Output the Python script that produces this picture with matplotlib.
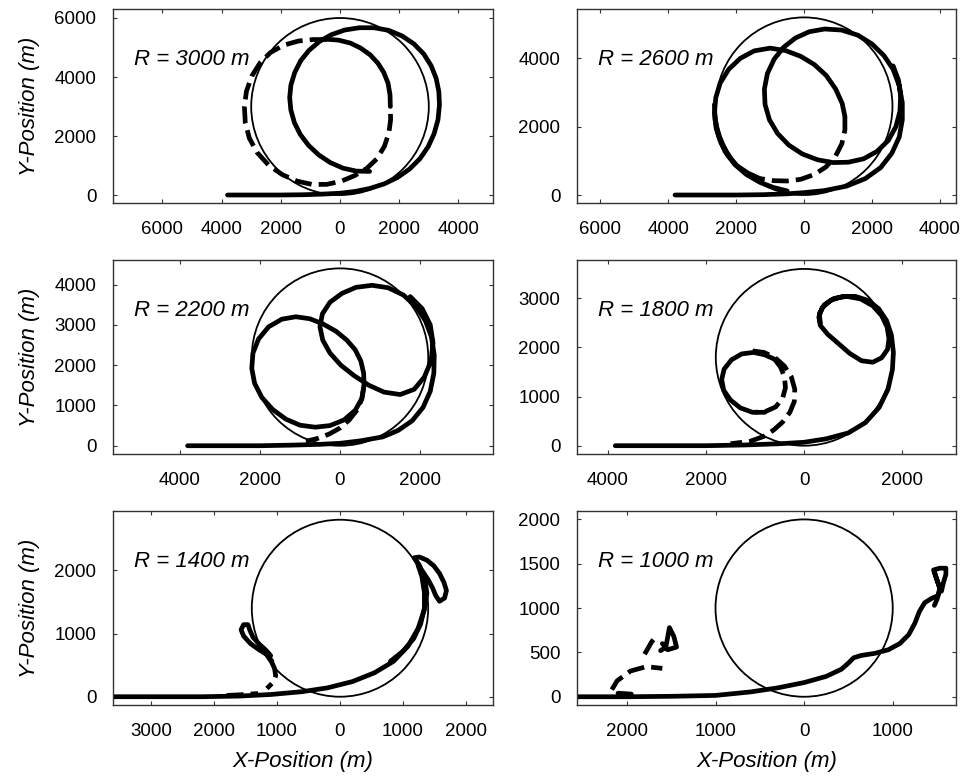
import matplotlib
matplotlib.use("Agg")
import matplotlib.pyplot as plt
from matplotlib.patches import Circle
from matplotlib.ticker import FixedLocator, FuncFormatter

plt.rcParams["font.family"] = ["Liberation Sans", "DejaVu Sans"]

# Orbit radii, one per panel
radii = [3000, 2600, 2200, 1800, 1400, 1000]

# Trajectory waypoints (x, y) in metres; solid and dashed tracks per panel
solid_3000 = [
    [(-3800, 0), (-3000, 0), (-2000, 0), (-1200, 10), (-600, 30), (0, 60), (500, 120),
     (1000, 220), (1500, 380), (1950, 600), (2350, 880), (2700, 1230), (2980, 1640),
     (3180, 2080), (3310, 2550), (3360, 3050), (3340, 3500), (3250, 3950), (3080, 4380),
     (2830, 4780), (2500, 5120), (2100, 5390), (1650, 5580), (1150, 5670), (650, 5670),
     (150, 5590), (-300, 5430), (-700, 5200), (-1050, 4900), (-1330, 4550), (-1530, 4150),
     (-1660, 3720), (-1700, 3300), (-1660, 2880), (-1540, 2450), (-1340, 2050),
     (-1060, 1680), (-720, 1360), (-330, 1100), (100, 910), (550, 810), (1000, 800)],
    [(1700, 3000), (1690, 3400), (1620, 3800), (1480, 4150), (1280, 4470), (1020, 4750),
     (700, 4980), (350, 5150), (-50, 5250), (-450, 5280)],
]
dashed_3000 = [
    [(-450, 5270), (-900, 5270), (-1400, 5220), (-1900, 5080), (-2350, 4830), (-2700, 4480),
     (-2980, 4030), (-3160, 3520), (-3230, 3000), (-3200, 2450), (-3060, 1920),
     (-2800, 1440), (-2420, 1020), (-1950, 690), (-1450, 470), (-950, 360), (-450, 360),
     (50, 470), (500, 660), (900, 900), (1250, 1230), (1500, 1650), (1650, 2100),
     (1710, 2550), (1700, 3000)],
]

solid_2600 = [
    [(-3800, 0), (-3000, 0), (-2000, 0), (-1200, 10), (-500, 35), (0, 70), (600, 130),
     (1250, 260), (1800, 480), (2250, 800), (2580, 1220), (2800, 1700), (2890, 2200),
     (2890, 2700), (2800, 3200), (2620, 3680), (2350, 4080), (2000, 4420), (1580, 4680),
     (1100, 4830), (600, 4860), (150, 4780), (-250, 4600), (-600, 4330), (-880, 3980),
     (-1080, 3560), (-1170, 3100), (-1150, 2650), (-1020, 2200), (-780, 1800),
     (-450, 1460), (-50, 1200), (400, 1030), (850, 950), (1300, 960), (1750, 1060),
     (2150, 1280), (2480, 1600), (2700, 2000), (2820, 2450), (2840, 2900), (2780, 3350),
     (2620, 3780)],
    [(-1300, 480), (-1650, 640), (-1980, 860), (-2250, 1160), (-2450, 1530), (-2590, 1950),
     (-2640, 2400), (-2600, 2850), (-2470, 3280), (-2220, 3680), (-1880, 4000),
     (-1470, 4220), (-1000, 4300), (-550, 4230), (-100, 4060), (300, 3820), (650, 3500),
     (930, 3100), (1120, 2680), (1200, 2300)],
    [(-500, 120), (-900, 220), (-1300, 370), (-1700, 600), (-2050, 900), (-2330, 1280),
     (-2520, 1730), (-2620, 2200), (-2640, 2650)],
]
dashed_2600 = [
    [(1200, 2300), (1200, 1900), (1110, 1500), (920, 1130), (640, 820), (300, 600),
     (-100, 460), (-500, 410), (-900, 420), (-1300, 480)],
]

solid_2200 = [
    [(-3800, 0), (-3000, 0), (-2000, 0), (-1200, 15), (-500, 35), (0, 60), (500, 120),
     (1070, 220), (1450, 380), (1800, 620), (2070, 950), (2250, 1350), (2340, 1800),
     (2350, 2250), (2280, 2700), (2130, 3100), (1900, 3450), (1580, 3740), (1200, 3920),
     (800, 3980), (400, 3930), (50, 3780), (-250, 3560), (-440, 3270), (-500, 2950),
     (-430, 2620), (-250, 2300), (20, 2000), (350, 1740), (720, 1500), (1100, 1330),
     (1500, 1270), (1850, 1400), (2100, 1700), (2270, 2100), (2320, 2550), (2250, 3000),
     (2050, 3400), (1750, 3700)],
    [(600, 1500), (590, 1800), (520, 2100), (380, 2380), (170, 2620), (-100, 2840),
     (-420, 3020), (-750, 3150), (-1100, 3200), (-1450, 3140), (-1780, 2950),
     (-2030, 2650), (-2170, 2300), (-2200, 1920), (-2130, 1550), (-1950, 1200),
     (-1680, 900), (-1350, 660), (-1000, 510), (-620, 460), (-250, 500), (100, 640),
     (380, 880), (550, 1180), (600, 1500)],
]
dashed_2200 = [
    [(590, 1450), (540, 1150), (420, 880), (230, 640), (0, 440), (-270, 290), (-560, 180),
     (-850, 110)],
]

solid_1800 = [
    [(-3850, 0), (-3000, 0), (-2000, 0), (-1200, 15), (-500, 40), (0, 70), (450, 140),
     (900, 260), (1250, 470), (1530, 780), (1710, 1150), (1800, 1550), (1820, 1900),
     (1780, 2250), (1680, 2550), (1520, 2790), (1300, 2960), (1050, 3040), (780, 3040),
     (540, 2960), (370, 2810), (300, 2620), (330, 2450), (480, 2270), (700, 2080),
     (930, 1880), (1170, 1730), (1400, 1700), (1580, 1790), (1700, 1960), (1730, 2180),
     (1690, 2420), (1580, 2650), (1400, 2850), (1150, 2990), (870, 3040), (610, 3000),
     (410, 2870), (310, 2690), (330, 2500)],
    [(-800, 680), (-1050, 680), (-1300, 770), (-1500, 930), (-1640, 1130), (-1680, 1350),
     (-1630, 1560), (-1480, 1750), (-1270, 1870), (-1030, 1900), (-800, 1850), (-600, 1760)],
]
dashed_1800 = [
    [(-600, 1760), (-480, 1600), (-400, 1400), (-380, 1180), (-440, 960), (-580, 790),
     (-780, 700), (-1000, 680)],
    [(-1050, 1930), (-820, 1900), (-600, 1800), (-400, 1620), (-260, 1400), (-190, 1150),
     (-200, 900), (-290, 680), (-440, 480), (-620, 320), (-820, 190), (-1100, 90),
     (-1500, 40)],
]

solid_1400 = [
    [(-3600, 0), (-3000, 0), (-2200, 0), (-1600, 10), (-1100, 35), (-600, 80), (-200, 140),
     (200, 240), (550, 380), (850, 560), (1080, 800), (1240, 1080), (1340, 1380),
     (1380, 1640), (1340, 1880), (1260, 2080), (1180, 2200), (1260, 2210), (1380, 2160),
     (1490, 2070), (1580, 1950), (1650, 1810), (1690, 1680), (1660, 1560), (1580, 1510),
     (1520, 1600), (1470, 1720), (1400, 1850), (1320, 1970), (1240, 2080)],
    [(1240, 2080), (1300, 1900), (1340, 1650), (1340, 1400), (1280, 1150), (1170, 920),
     (1000, 720), (800, 560)],
    [(-1080, 560), (-1150, 660), (-1280, 740), (-1420, 840), (-1530, 960), (-1570, 1060),
     (-1530, 1140), (-1460, 1140), (-1430, 1050), (-1380, 940), (-1290, 840),
     (-1180, 740), (-1100, 650)],
]
dashed_1400 = [
    [(-1090, 560), (-1040, 450), (-1020, 330), (-1060, 230), (-1160, 130)],
    [(-1800, 20), (-1600, 30), (-1300, 50)],
]

solid_1000 = [
    [(-2560, 0), (-2000, 0), (-1500, 5), (-1000, 15), (-600, 55), (-300, 100), (0, 160),
     (250, 230), (420, 310), (500, 380), (560, 440), (640, 465), (800, 490), (950, 530),
     (1080, 600), (1180, 700), (1250, 830), (1300, 960), (1360, 1060), (1440, 1110),
     (1510, 1140), (1530, 1220), (1500, 1320), (1460, 1430), (1530, 1450), (1600, 1450),
     (1600, 1380), (1570, 1280), (1550, 1190), (1520, 1260), (1490, 1340), (1470, 1410)],
    [(1530, 1200), (1500, 1100), (1470, 1030)],
    [(-1620, 520), (-1560, 560), (-1520, 780), (-1470, 680), (-1440, 560), (-1540, 530),
     (-1600, 600)],
    [(-2100, 40), (-1950, 30)],
]
dashed_1000 = [
    [(-2170, 80), (-2110, 180), (-1960, 290), (-1780, 340), (-1600, 320)],
    [(-1800, 480), (-1720, 620), (-1650, 700)],
]

solid_tracks = [solid_3000, solid_2600, solid_2200, solid_1800, solid_1400, solid_1000]
dashed_tracks = [dashed_3000, dashed_2600, dashed_2200, dashed_1800, dashed_1400, dashed_1000]

# Axis windows and tick values per panel
x_limits = [(-7669, 5169), (-6685, 4470), (-5660, 3815), (-4629, 3096), (-3603, 2429), (-2563, 1714)]
y_limits = [(-271, 6305), (-234, 5446), (-205, 4608), (-169, 3782), (-131, 2938), (-93, 2095)]
x_ticks = [
    [-6000, -4000, -2000, 0, 2000, 4000],
    [-6000, -4000, -2000, 0, 2000, 4000],
    [-4000, -2000, 0, 2000],
    [-4000, -2000, 0, 2000],
    [-3000, -2000, -1000, 0, 1000, 2000],
    [-2000, -1000, 0, 1000],
]
y_ticks = [
    [0, 2000, 4000, 6000],
    [0, 2000, 4000],
    [0, 1000, 2000, 3000, 4000],
    [0, 1000, 2000, 3000],
    [0, 1000, 2000],
    [0, 500, 1000, 1500, 2000],
]

W, H = 965, 784
fig = plt.figure(figsize=(W / 100, H / 100), dpi=100)

col_left = [113, 577]
col_width = [380, 379]
row_top = [9, 260, 511]
row_height = 194

abs_fmt = FuncFormatter(lambda v, p: f"{abs(v):.0f}")
thick = 3.4
dash_pattern = (0, (3.6, 1.5))

for i, R in enumerate(radii):
    row, col = divmod(i, 2)
    left = col_left[col] / W
    bottom = 1 - (row_top[row] + row_height) / H
    ax = fig.add_axes([left, bottom, col_width[col] / W, row_height / H])

    ax.add_patch(Circle((0, R), R, fill=False, ec="black", lw=1.3))

    for seg in solid_tracks[i]:
        xs, ys = zip(*seg)
        ax.plot(xs, ys, color="black", lw=thick, solid_capstyle="round",
                solid_joinstyle="round")
    for seg in dashed_tracks[i]:
        xs, ys = zip(*seg)
        ax.plot(xs, ys, color="black", lw=thick, linestyle=dash_pattern,
                dash_capstyle="butt", dash_joinstyle="round")

    ax.set_xlim(*x_limits[i])
    ax.set_ylim(*y_limits[i])
    ax.xaxis.set_major_locator(FixedLocator(x_ticks[i]))
    ax.yaxis.set_major_locator(FixedLocator(y_ticks[i]))
    ax.xaxis.set_major_formatter(abs_fmt)
    ax.yaxis.set_major_formatter(abs_fmt)
    ax.tick_params(direction="in", length=3, width=0.8, top=True, right=True,
                   labelsize=13.5, color="#333333")
    ax.tick_params(axis="x", pad=13)
    ax.tick_params(axis="y", pad=12)
    for sp in ax.spines.values():
        sp.set_color("#333333")
        sp.set_linewidth(1.0)

    ax.text(0.055, 0.71, f"R = {R} m", transform=ax.transAxes, fontsize=16,
            style="italic", ha="left", va="baseline")

    if col == 0:
        ax.set_ylabel("Y-Position (m)", fontsize=16, style="italic", labelpad=10)
    if row == 2:
        ax.set_xlabel("X-Position (m)", fontsize=16, style="italic", labelpad=8)

fig.savefig("out.png", dpi=100)
